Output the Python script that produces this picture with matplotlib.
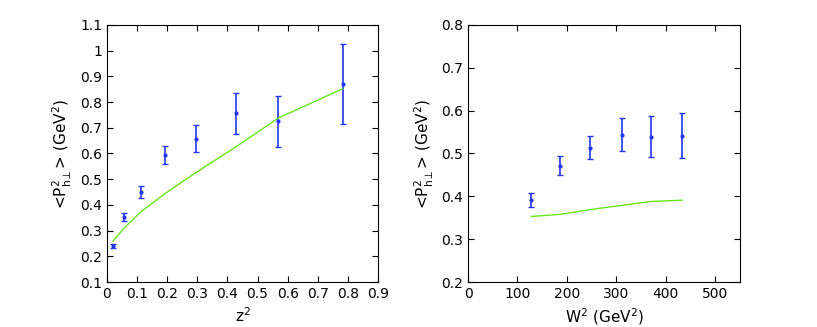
import numpy as np
import matplotlib.pyplot as plt

# left panel: <P^2_hT> vs z^2
z2 = [0.019, 0.057, 0.114, 0.194, 0.294, 0.427, 0.569, 0.783]
pt_z = [0.239, 0.353, 0.450, 0.593, 0.658, 0.756, 0.726, 0.872]
err_z = [0.008, 0.015, 0.022, 0.035, 0.052, 0.079, 0.099, 0.156]
model_z = [0.258, 0.310, 0.375, 0.445, 0.525, 0.625, 0.738, 0.852]

# right panel: <P^2_hT> vs W^2
w2 = [128, 187, 247, 311, 370, 433]
pt_w = [0.392, 0.471, 0.514, 0.544, 0.539, 0.542]
err_w = [0.016, 0.022, 0.027, 0.039, 0.048, 0.053]
model_w = [0.353, 0.358, 0.369, 0.379, 0.388, 0.391]

blue = '#2436f0'
green = '#66e619'
ylab = r'<P$^2_{\mathrm{h}\perp}$> (GeV$^2$)'

fig = plt.figure(figsize=(8.17, 3.27), dpi=100)
ax1 = fig.add_axes([107/817, 45/327, 271/817, 257/327])
ax2 = fig.add_axes([468/817, 45/327, 272/817, 257/327])

ax1.errorbar(z2, pt_z, yerr=err_z, fmt='o', ms=2, color=blue, ecolor=blue,
             elinewidth=1.2, capsize=2.5, capthick=1)
ax1.plot(z2, model_z, color=green, lw=1)
ax1.set_xlim(0, 0.9)
ax1.set_ylim(0.1, 1.1)
ax1.set_xticks(np.arange(0, 0.91, 0.1))
ax1.set_xticklabels(['0', '0.1', '0.2', '0.3', '0.4', '0.5', '0.6', '0.7', '0.8', '0.9'])
ax1.set_yticks(np.arange(0.1, 1.11, 0.1))
ax1.set_yticklabels(['0.1', '0.2', '0.3', '0.4', '0.5', '0.6', '0.7', '0.8', '0.9', '1', '1.1'])
ax1.set_xlabel(r'z$^2$', fontsize=11)
ax1.set_ylabel(ylab, fontsize=11)

ax2.errorbar(w2, pt_w, yerr=err_w, fmt='o', ms=2, color=blue, ecolor=blue,
             elinewidth=1.2, capsize=2.5, capthick=1)
ax2.plot(w2, model_w, color=green, lw=1)
ax2.set_xlim(0, 550)
ax2.set_ylim(0.2, 0.8)
ax2.set_xticks([0, 100, 200, 300, 400, 500])
ax2.set_yticks(np.arange(0.2, 0.81, 0.1))
ax2.set_yticklabels(['0.2', '0.3', '0.4', '0.5', '0.6', '0.7', '0.8'])
ax2.set_xlabel(r'W$^2$ (GeV$^2$)', fontsize=11)
ax2.set_ylabel(ylab, fontsize=11)

for ax in (ax1, ax2):
    ax.tick_params(direction='in', top=True, right=True, labelsize=10, length=4)
    for s in ax.spines.values():
        s.set_linewidth(0.8)

plt.savefig('out.png', dpi=100)
